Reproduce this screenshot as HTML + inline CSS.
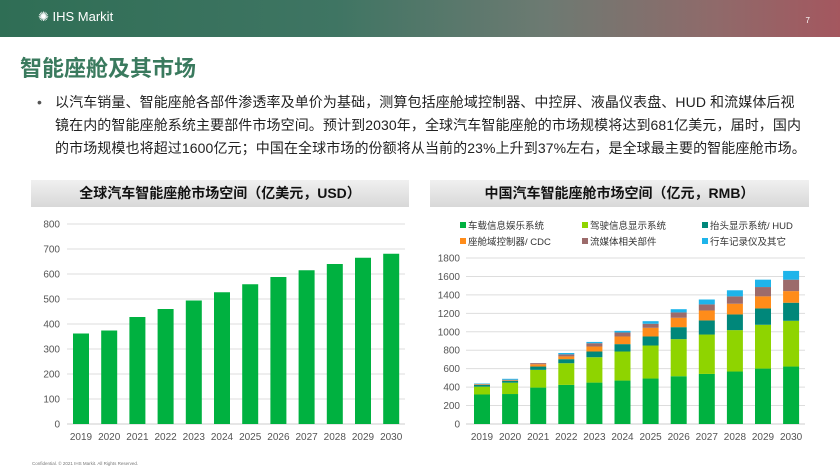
<!DOCTYPE html>
<html><head><meta charset="utf-8"><style>
body{margin:0;width:840px;height:473px;overflow:hidden;background:#fff;font-family:"Liberation Sans","Noto Sans CJK SC",sans-serif;position:relative}
.hdr{position:absolute;left:0;top:0;width:840px;height:37px;background:linear-gradient(90deg,#2f6e55 0%,#3f7563 40%,#6d7a72 65%,#8f6a6a 85%,#a4575f 100%)}
.logo{position:absolute;left:38px;top:9px;color:#fff;font-size:13px}
.title{position:absolute;left:20px;top:51px;font-size:22px;color:#3a7a5e;font-weight:bold}
.bul{position:absolute;left:55px;top:91px;white-space:nowrap;font-size:14px;letter-spacing:0.1px;line-height:23px;color:#222}
.bul:before{content:"•";position:absolute;left:-18px;color:#555}
.tb{position:absolute;top:180px;height:27px;background:linear-gradient(#f0f0f0,#d8d8d8);font-weight:bold;font-size:14px;text-align:center;line-height:27px;color:#111}
</style></head><body>
<div class="hdr"><div class="logo">✺ IHS Markit</div><div style="position:absolute;right:30px;top:16px;color:#fff;font-size:8px">7</div></div>
<div class="title">智能座舱及其市场</div>
<div class="bul">以汽车销量、智能座舱各部件渗透率及单价为基础，测算包括座舱域控制器、中控屏、液晶仪表盘、HUD 和流媒体后视<br>镜在内的智能座舱系统主要部件市场空间。预计到2030年，全球汽车智能座舱的市场规模将达到681亿美元，届时，国内<br>的市场规模也将超过1600亿元；中国在全球市场的份额将从当前的23%上升到37%左右，是全球最主要的智能座舱市场。</div>
<div class="tb" style="left:31px;width:378px">全球汽车智能座舱市场空间（亿美元，USD）</div>
<div class="tb" style="left:430px;width:379px">中国汽车智能座舱市场空间（亿元，RMB）</div>
<svg width="840" height="473" style="position:absolute;left:0;top:0" font-family="Liberation Sans" font-size="10" fill="#555">
<g id="L"></g><g id="R"></g>
<text x="32" y="465" font-size="4.5" fill="#777">Confidential. © 2021 IHS Markit. All Rights Reserved.</text>
</svg>
<script>
var ns="http://www.w3.org/2000/svg";
function el(g,t,a,txt){var e=document.createElementNS(ns,t);for(var k in a)e.setAttribute(k,a[k]);if(txt!=null)e.textContent=txt;g.appendChild(e);}
var L=document.getElementById("L");
for(var i=0;i<=8;i++){var y=424-i*25;if(i>0)el(L,"line",{x1:67,x2:405,y1:y,y2:y,stroke:"#ddd","stroke-width":1});el(L,"text",{x:60,y:y+3.5,"text-anchor":"end"},i*100);}
el(L,"line",{x1:67,x2:405,y1:424,y2:424,stroke:"#ccc"});
var v=[362,374,428,460,494,527,559,588,615,640,665,681];
v.forEach(function(d,i){var cx=81+i*28.2;el(L,"rect",{x:cx-8,y:424-d*0.25,width:16,height:d*0.25,fill:"#00b140"});el(L,"text",{x:cx,y:440,"text-anchor":"middle"},2019+i);});
var R=document.getElementById("R");var s=166/1800;
for(var i=0;i<=9;i++){var y=424-i*200*s;el(R,"line",{x1:466,x2:805,y1:y,y2:y,stroke:i?"#ddd":"#ccc"});el(R,"text",{x:460,y:y+3.5,"text-anchor":"end"},i*200);}
var cols=["#00b140","#8fd400","#00877a","#ff8c1a","#9c6b6b","#1eb4ea"];
var D=[[320,85,20,5,5,5],[325,123,20,5,7,10],[395,192,36,25,12,0],[424,235,44,30,22,15],[449,275,62,54,36,14],[471,315,80,83,43,18],[493,358,98,94,44,28],[518,402,130,102,58,35],[543,427,153,108,66,53],[569,449,170,116,80,66],[601,475,177,131,101,80],[623,496,196,126,124,95]];
D.forEach(function(r,i){var cx=482+i*28.1,b=424;r.forEach(function(d,j){var h=d*s;el(R,"rect",{x:cx-8,y:b-h,width:16,height:h,fill:cols[j]});b-=h;});el(R,"text",{x:cx,y:440,"text-anchor":"middle"},2019+i);});
var lg=["车载信息娱乐系统","驾驶信息显示系统","抬头显示系统/ HUD","座舱域控制器/ CDC","流媒体相关部件","行车记录仪及其它"];
lg.forEach(function(t,j){var x=[460,582,702][j%3],y=j<3?229:245;el(R,"rect",{x:x,y:y-7,width:6,height:6,fill:cols[j]});el(R,"text",{x:x+8,y:y,"font-family":"Liberation Sans,Noto Sans CJK SC,sans-serif",fill:"#333","font-size":9.5},t);});
</script>
</body></html>
